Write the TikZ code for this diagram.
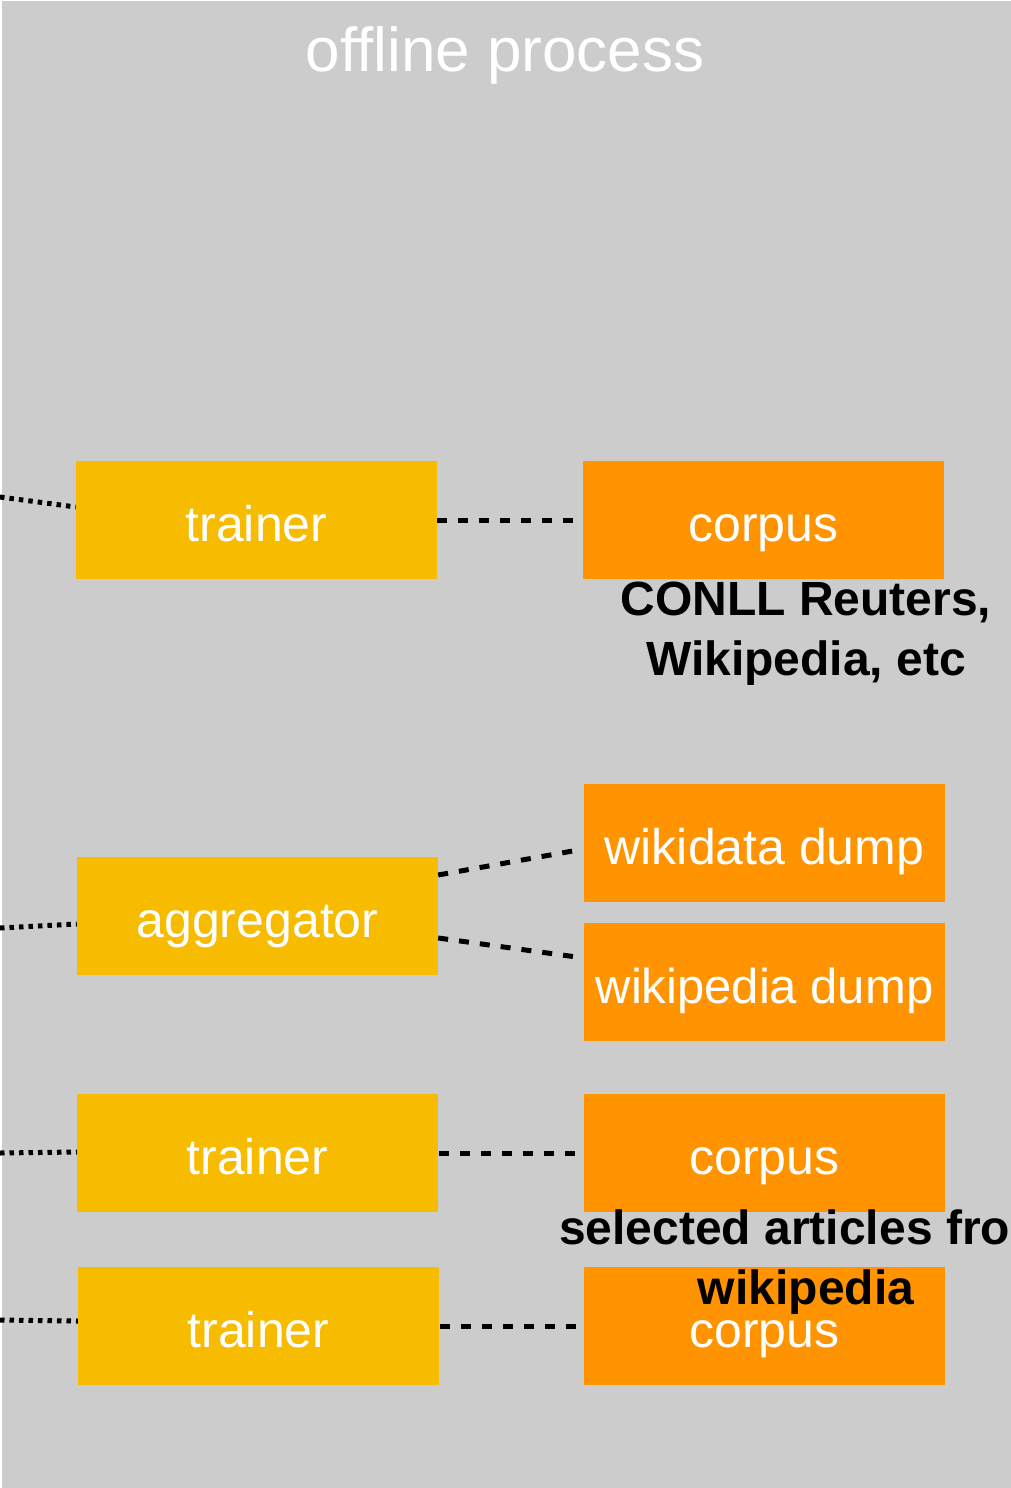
\documentclass[tikz,border=0pt]{standalone}
\usepackage{fontspec}
\setmainfont{Liberation Sans}
\usetikzlibrary{calc}
\definecolor{panelgray}{RGB}{204,204,204}
\definecolor{stageyellow}{RGB}{247,188,0}
\definecolor{dataorange}{RGB}{255,148,0}
\tikzset{
  unitbox/.style={rectangle, inner sep=0pt, minimum width=361pt, minimum height=118pt,
    text height=42pt, text depth=0pt,
    text=white, font=\fontsize{50}{60}\selectfont},
  proc/.style={unitbox, fill=stageyellow},
  data/.style={unitbox, fill=dataorange},
  link/.style={line width=5pt, dash pattern=on 10pt off 11pt, shorten >=5pt},
  feed/.style={line width=5pt, dash pattern=on 4.5pt off 5pt},
  note/.style={align=center, text=black, font=\fontsize{48}{60}\selectfont\bfseries},
}
\begin{document}
\begin{tikzpicture}[x=1pt, y=-1pt]
  \useasboundingbox (0,0) rectangle (1011,1488);
  \clip (0,0) rectangle (1011,1488);
  % panel
  \fill[white] (0,0) rectangle (1011,1488);
  \fill[panelgray] (1.5,1.5) rectangle (1011,1488);
  \node[anchor=base, inner sep=0pt, text=white, font=\fontsize{62}{72}\selectfont] (title) at (505,71) {offline process};

  % stages and their data sources
  \node[proc] (trainA) at (256.5,520) {trainer};
  \node[data] (corpA) at (763.5,520) {corpus};

  \node[proc] (agg) at (257.5,916) {aggregator};
  \node[data] (wdump) at (764.5,843) {wikidata dump};
  \node[data] (wpdump) at (764.5,982) {\fontsize{49}{60}\selectfont wikipedia dump};

  \node[proc] (trainB) at (257.5,1153) {trainer};
  \node[data] (corpB) at (764.5,1153) {corpus};

  \node[proc] (trainC) at (258.5,1326) {trainer};
  \node[data] (corpC) at (764.5,1326) {corpus};

  % incoming feeds from the left edge
  \coordinate (inA) at (0,497);
  \coordinate (inAgg) at (0,928);
  \coordinate (inB) at (0,1153);
  \coordinate (inC) at (0,1320);
  \draw[feed] (inA) -- ($(trainA.west)+(0,-13)$);
  \draw[feed] (inAgg) -- ($(agg.west)+(0,8)$);
  \draw[feed] (inB) -- ($(trainB.west)+(0,-1)$);
  \draw[feed] (inC) -- ($(trainC.west)+(0,-5)$);

  % stage-to-data links
  \draw[link] (trainA.east) -- (corpA.west);
  \draw[link] ($(agg.east)+(0,-41)$) -- ($(wdump.west)+(0,6)$);
  \draw[link] ($(agg.east)+(0,22)$) -- ($(wpdump.west)+(0,-24)$);
  \draw[link] ($(trainB.east)+(1,0)$) -- (corpB.west);
  \draw[link] ($(trainC.east)+(1,0)$) -- (corpC.west);

  % corpus descriptions
  \node[note] (noteA) at (806,634) {CONLL Reuters,\\Wikipedia, etc};
  \node[note] (noteB) at (806,1262) {selected articles from\\wikipedia};
\end{tikzpicture}
\end{document}
